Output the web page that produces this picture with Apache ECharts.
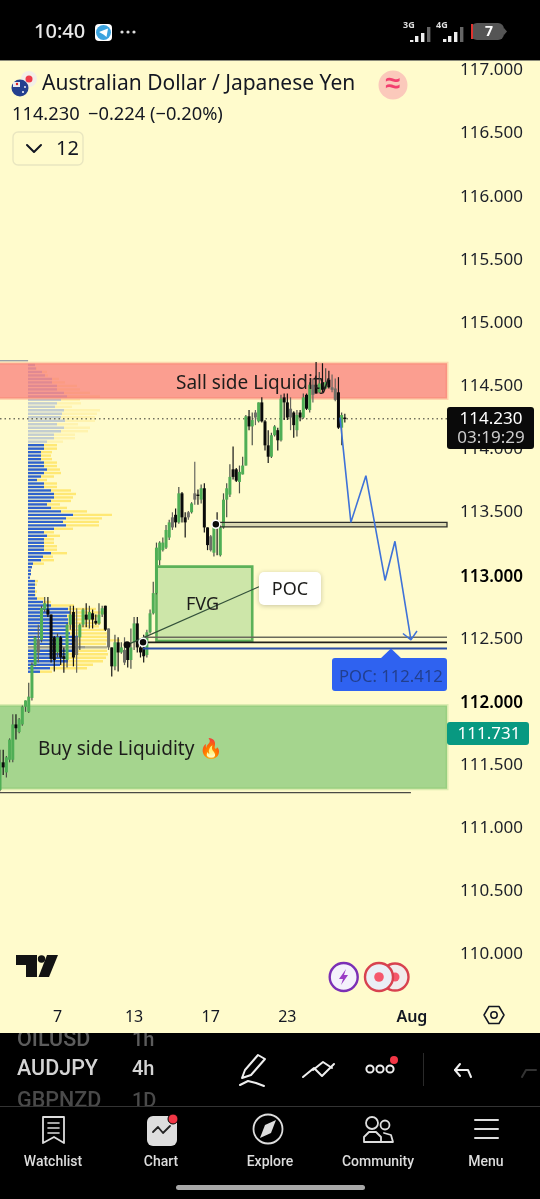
<!DOCTYPE html>
<html><head><meta charset="utf-8"><style>html,body{margin:0;padding:0;background:#fffbcc}#c{width:540px;height:1199px}</style>
<script src="https://cdn.jsdelivr.net/npm/echarts@6/dist/echarts.min.js"></script></head><body><div id="c"></div>
<script>
// ---------- values ----------
const open=[111.29,111.51,111.43,111.53,111.53,111.81,111.75,111.81,111.95,111.91,112.02,112.28,112.48,112.48,112.72,112.72,112.68,112.50,112.38,112.50,112.35,112.32,112.60,112.70,112.50,112.50,112.60,112.68,112.64,112.69,112.63,112.61,112.68,112.75,112.57,112.42,112.27,112.46,112.38,112.40,112.44,112.32,112.46,112.61,112.42,112.42,112.36,112.54,112.69,112.85,113.11,113.19,113.21,113.29,113.45,113.47,113.41,113.64,113.45,113.49,113.49,113.64,113.63,113.59,113.68,113.37,113.30,113.17,113.41,113.15,113.37,113.59,113.63,113.83,113.83,113.73,113.79,113.86,114.25,114.17,114.28,114.21,114.36,114.21,114.02,113.93,114.10,114.14,114.06,114.40,114.36,114.31,114.28,114.14,114.28,114.24,114.42,114.30,114.50,114.50,114.44,114.52,114.47,114.54,114.48,114.47,114.44,114.16,114.24];
const close=[111.51,111.47,111.55,111.69,111.81,111.78,111.85,111.95,112.00,112.03,112.28,112.50,112.38,112.73,112.77,112.68,112.33,112.32,112.50,112.34,112.33,112.60,112.68,112.34,112.36,112.60,112.72,112.64,112.70,112.64,112.61,112.68,112.73,112.56,112.42,112.27,112.46,112.38,112.42,112.30,112.32,112.42,112.61,112.42,112.38,112.35,112.54,112.69,112.85,113.21,113.25,113.25,113.35,113.41,113.37,113.41,113.64,113.45,113.41,113.45,113.56,113.59,113.62,113.68,113.37,113.23,113.19,113.41,113.37,113.37,113.59,113.68,113.77,113.77,113.74,113.81,113.86,114.25,114.17,114.22,114.24,114.36,114.21,114.02,113.93,114.10,114.17,114.06,114.39,114.36,114.24,114.24,114.18,114.26,114.24,114.40,114.31,114.50,114.42,114.43,114.51,114.46,114.52,114.48,114.46,114.38,114.16,114.26,114.23];
const low=[111.28,111.41,111.39,111.51,111.51,111.69,111.74,111.80,111.91,111.90,112.00,112.27,112.30,112.46,112.70,112.66,112.30,112.23,112.34,112.28,112.22,112.26,112.56,112.27,112.22,112.40,112.58,112.58,112.57,112.57,112.60,112.60,112.66,112.55,112.40,112.19,112.24,112.23,112.37,112.28,112.26,112.25,112.40,112.38,112.34,112.30,112.34,112.53,112.68,112.84,113.07,113.18,113.20,113.27,113.35,113.37,113.40,113.41,113.29,113.43,113.48,113.55,113.55,113.56,113.33,113.19,113.18,113.14,113.15,113.14,113.36,113.45,113.61,113.75,113.73,113.64,113.79,113.86,114.14,114.02,114.18,114.20,114.20,113.98,113.88,113.92,114.09,113.98,114.05,114.22,114.22,114.14,114.08,114.09,114.21,114.23,114.30,114.28,114.36,114.43,114.43,114.44,114.47,114.47,114.44,114.37,114.15,114.02,114.20];
const high=[111.61,111.61,111.56,111.70,111.89,111.89,111.86,111.96,112.00,112.14,112.30,112.51,112.60,112.75,112.82,112.82,112.68,112.51,112.53,112.51,112.42,112.61,112.75,112.75,112.73,112.61,112.73,112.77,112.75,112.72,112.68,112.77,112.75,112.75,112.57,112.42,112.52,112.50,112.46,112.50,112.46,112.57,112.66,112.66,112.46,112.52,112.56,112.72,112.94,113.25,113.26,113.29,113.39,113.43,113.49,113.52,113.69,113.65,113.49,113.50,113.57,113.89,113.67,113.71,113.72,113.37,113.31,113.42,113.49,113.39,113.64,113.72,113.87,114.01,113.84,113.86,113.93,114.26,114.30,114.28,114.30,114.36,114.40,114.22,114.14,114.12,114.18,114.16,114.42,114.43,114.43,114.40,114.29,114.30,114.30,114.43,114.43,114.52,114.55,114.68,114.60,114.67,114.63,114.61,114.58,114.55,114.56,114.28,114.27];
const mutedCandles=[12,24,34,39,54,59,61,66,80,91,98,104,105];
const volumeBlue=[7,8,14,17,24,24,29,29,36,39,33,29,27,36,34,33,37,29,36,33,26,26,19,16,16,13,13,13,16,16,19,16,13,9,16,16,23,26,26,23,19,23,33,45,38,35,38,26,16,19,16,16,16,16,23,15,13,5,4,3,3,2,7,7,7,7,7,9,15,23,40,42,39,40,40,39,40,42,50,50,45,57,47,40,40,40,32,22,12];
const volumeYellow=[0,1,5,3,7,13,20,23,26,33,19,24,17,36,35,34,30,21,26,27,21,21,16,13,13,11,10,11,13,13,13,17,13,10,13,13,20,22,19,20,13,16,26,39,36,36,33,19,10,13,10,10,13,13,16,10,13,11,0,0,0,0,3,2,0,2,1,7,8,23,28,37,33,28,33,32,38,37,30,42,33,22,32,40,38,35,33,37,12];
const profileTopPrice=114.657, profileBinStep=0.0276;
const sellZone=[114.39,114.67], buyZone=[111.30,111.96], fvgZone=[112.47,113.06];
const lastPrice=114.230, pocPrice=112.412, bidPrice=111.731;
const pathPrices=[114.24,113.41,113.78,112.95,113.26,112.48];
const pathSlots=[106.5,109.9,114.6,120.6,123.7,128.7];
const yTickBold=[113,112];
const xTickLabels={18:'7',42:'13',66:'17',90:'23',129:'Aug'};
const slotCount=141;
// ---------- chart ----------
const C='#fffbcc', INK='#131722', UI='"Noto Sans",sans-serif', NAV='Roboto,sans-serif';
const chart=echarts.init(document.getElementById('c'),null,{renderer:'canvas',width:540,height:1199});
const slots=Array.from({length:slotCount},(_,i)=>String(i));
const rows=volumeBlue.map((b,i)=>[i,b,volumeYellow[i],profileTopPrice-i*profileBinStep]);
function zone(name,k0,k1,prices,fill,stroke,lw,z){
  return {type:'custom',name,xAxisIndex:1,yAxisIndex:0,z,silent:true,data:[[k0,k1,prices[0],prices[1]]],clip:false,
    renderItem(p,api){const a=api.coord([api.value(0),api.value(3)]),b=api.coord([api.value(1),api.value(2)]);
      return {type:'rect',shape:{x:a[0],y:a[1],width:b[0]-a[0],height:b[1]-a[1]},style:{fill,stroke,lineWidth:lw}}}};
}
function seg(name,pts,color,width,z,type){
  return {type:'line',name,xAxisIndex:1,yAxisIndex:0,z,silent:true,symbol:'none',animation:false,data:pts,lineStyle:{color,width,type:type||'solid'}};
}
function dot(name,k,p,size,ring){
  return {type:'scatter',name,xAxisIndex:1,yAxisIndex:0,z:9,silent:true,symbolSize:size,data:[[k,p]],itemStyle:{color:'#0b0b0b',borderColor:ring,borderWidth:ring==='#fff'?1.5:0,opacity:1}};
}
const series=[
 {type:'custom',name:'Volume profile',xAxisIndex:2,yAxisIndex:0,z:1,silent:true,data:rows,
  renderItem(p,api){const i=api.value(0),b=api.value(1),y=api.value(2),pr=api.value(3);
   const a=api.coord([0,pr]),e=api.coord([b,pr]),f=api.coord([b+y,pr]);
   const faded=i<23, poc=i===81;
   return {type:'group',children:[
    {type:'rect',shape:{x:a[0],y:a[1]-1.1,width:e[0]-a[0],height:2.4},style:{fill:poc?'#9a9c8f':faded?'#c3cdd0':'#2f62cc'}},
    {type:'rect',shape:{x:e[0],y:a[1]-1.1,width:f[0]-e[0],height:2.4},style:{fill:poc?'#b9b48e':faded?'#fff3ae':'#ffe874'}}]}}},
 zone('Sell side',-2,140,sellZone,'rgba(247,82,95,.55)','rgba(247,120,95,.28)',3,2),
 zone('Buy side',-2,140,buyZone,'rgba(76,175,80,.5)','rgba(120,190,90,.25)',3,2),
 zone('FVG',49,79,fvgZone,'rgba(76,175,80,.28)','#5cb158',2.6,2),
 seg('Last price',[[0,lastPrice],[140,lastPrice]],'#30302c',1,3,[1.5,3]),
 {type:'custom',name:'AUDJPY 4h',xAxisIndex:0,yAxisIndex:0,z:5,silent:true,
  data:open.map((o,i)=>[i,o,close[i],low[i],high[i]]),encode:{x:0,y:[1,2,3,4]},
  renderItem(p,api){const k=api.value(0),o=api.value(1),c=api.value(2),l=api.value(3),h=api.value(4);
   const x=api.coord([k,o])[0],yo=api.coord([k,o])[1],yc=api.coord([k,c])[1],yl=api.coord([k,l])[1],yh=api.coord([k,h])[1];
   const up=c>=o, muted=mutedCandles.includes(k);
   const fill=up?'#4fae55':muted?'#6f6f68':'#0a0a0a', wick=up?'#4c5046':muted?'#66665f':'#141414';
   const t=Math.min(yo,yc),bt=Math.max(yo,yc);
   return {type:'group',children:[
    {type:'line',shape:{x1:x,y1:yh,x2:x,y2:yl},style:{stroke:wick,lineWidth:1.2}},
    {type:'rect',shape:{x:x-1.5,y:t,width:3,height:Math.max(1.4,bt-t)},style:{fill}}]}}},
 zone('Level band',67.6,140,[113.375,113.41],'rgba(150,150,125,.35)','#2e2e2a',1.3,6),
 seg('Range bottom',[[0,111.27],[128.7,111.27]],'#4a4a44',1.4,6),
 seg('Top range',[[0,114.69],[8.8,114.69]],'#76859a',1.2,6),
 seg('Level a',[[44.8,112.50],[140,112.50]],'#6a6a5c',1.6,6),
 seg('Level b',[[44.8,112.46],[140,112.46]],'#20201c',1.8,6),
 seg('POC',[[44.8,pocPrice],[140,pocPrice]],'#2a4fa8',2,6),
 seg('Trend',[[39.8,112.44],[81.1,112.90]],'#33513a',1.1,7),
 seg('Projection',pathSlots.map((k,i)=>[k,pathPrices[i]]),'#3f72d8',1.6,8),
 seg('Arrow head',[[126.2,112.53],[128.7,112.48],[130.6,112.55]],'#3f72d8',1.5,8),
 dot('Anchor a',39.8,112.44,7,'#000'),
 dot('Anchor b',44.8,112.46,8,'#fff'),
 dot('Anchor c',67.6,113.395,8,'#fff')
];
// ---------- UI chrome ----------
const g=[];
const Z=100;
const R=(x,y,w,h,fill,r,stroke,lw,z)=>g.push({type:'rect',z:z||Z,silent:true,shape:{x,y,width:w,height:h,r:r||0},style:{fill,stroke,lineWidth:lw||0}});
const Ci=(x,y,r,fill,stroke,lw,z)=>g.push({type:'circle',z:z||Z,silent:true,shape:{cx:x,cy:y,r},style:{fill:fill||'none',stroke,lineWidth:lw||0}});
const L=(pts,stroke,lw,z)=>g.push({type:'polyline',z:z||Z,silent:true,shape:{points:pts},style:{stroke,lineWidth:lw||1.5,fill:'none',lineCap:'round',lineJoin:'round'}});
const P=(pts,fill,z)=>g.push({type:'polygon',z:z||Z,silent:true,shape:{points:pts},style:{fill}});
const T=(text,x,y,size,fill,o)=>{o=o||{};g.push({type:'text',z:o.z||Z+1,silent:true,x,y:y+1.5,style:{text,fill,font:(o.w||400)+' '+size+'px '+(o.f||UI),textAlign:o.a||'left',textVerticalAlign:'middle'}})};
// status bar
R(0,0,540,60,'#000');
R(0,60,540,1,'#8b8b7a');
T('10:40',34,31,20,'#e9e9e9',{w:500});
R(95,24,17,17,'#fff',4);Ci(103.5,32.5,7.5,'#3aa3df');P([[99,32],[108,28.5],[106.5,37],[103.5,34.5]],'#fff');
[122,128,134].forEach(x=>Ci(x,32,1.6,'#ddd'));
T('3G',403,24,9,'#ddd',{w:700});
[[411,37,3],[416,33,7],[422,30,10],[428,24,16]].forEach((b,i)=>R(b[0]-1,b[1]+3,3.4,b[2]-1,i<3?'#eee':'#666'));
T('4G',436,24,9,'#ddd',{w:700});
[[444,36,4],[449,33,7],[455,29,11],[461,24,16]].forEach((b,i)=>R(b[0]-1,b[1]+3,3.4,b[2]-1,i<3?'#eee':'#666'));
R(471,23,33,17,'#555',6);R(471,24,2,15,'#e0332f');P([[504,28],[507,31.5],[504,35]],'#555');
T('7',485,31,14,'#fff',{w:700});
// header
Ci(29,79,8,'#f3efe8');Ci(29,79,3.5,'#ef3b4a');
Ci(20,88,8.5,'#233f8f');R(13,82,7,5,'#e9eaf0');Ci(17,84,1.2,'#d22');Ci(23,92,1,'#fff');Ci(25,87,.9,'#fff');
T('Australian Dollar / Japanese Yen',42,83,21,'#131722');
Ci(393,85,14.5,'#fbc9bb');T('≈',393,83,27,'#f23f6f',{a:'center',w:700});
T('114.230',12,113,18.3,'#131722');T('−0.224 (−0.20%)',88,113,18.3,'#131722');
R(13,132,70,33,'rgba(0,0,0,0)',5,'#e9e6c0',1.4);
L([[27,145],[34,152],[41,145]],'#131722',2);T('12',56,148,20,'#131722');
// price tags
R(447,407,87,42,'#0a0a0a',3);T('114.230',491,418,17,'#fff',{a:'center'});T('03:19:29',491,437,17,'#ccc',{a:'center'});
R(447,722,82,23,'#089981',3);T('111.731',489,733,17,'#fff',{a:'center'});
// annotation text
T('Sall side Liquidity',176,382,19,'#1d1d1b',{z:Z});
T('Buy side Liquidity 🔥',38,748,19,'#1d1d1b',{z:Z,f:UI+',"Noto Color Emoji"'});
T('FVG',186,603,18,'#1d1d1b',{z:Z});
g.push({type:'rect',z:Z,silent:true,shape:{x:259,y:572,width:62,height:33,r:5},style:{fill:'#fff',shadowBlur:5,shadowColor:'rgba(0,0,0,.22)',shadowOffsetY:1}});
T('POC',290,588,18,'#1d1d1b',{a:'center'});
R(332,658,115,33,'#2f62f0',3);P([[380,659],[391,648.5],[402,659]],'#2f62f0');
T('POC: 112.412',339,676,16.6,'#223f8e');
// logo + floating icons
P([[16,955],[37,955],[37,977],[26,977],[26,965],[16,965]],'#131313');Ci(41.5,959,3.7,'#131313');P([[47,955],[58,955],[49,977],[38.5,977]],'#131313');
Ci(343.7,977,14,'#f4f1fb','#7b2fb5',2.4);P([[346,969],[339,979],[343,979],[341,985],[348,975],[344,975]],'#9a3bc5');
Ci(395,977,13.5,'#f1ecec','#d8424f',2.4);Ci(395,977,4.5,'#f5586c');
Ci(379,977,14,'#eaeff6','#d8424f',2.4);Ci(379,977,4.8,'#f5586c');
L([[484,1015],[489,1006.5],[499,1006.5],[504,1015],[499,1023.5],[489,1023.5],[484,1015]],'#131722',1.5);Ci(494,1015,3.2,'none','#131722',1.5);
// bottom panel
R(0,1033,540,166,'#000',0,null,0,Z-1);
T('OILUSD',17,1039,21.5,'#5c5c5c',{f:NAV,w:500});T('1h',132,1039,20,'#5c5c5c',{f:NAV,w:500});
R(0,1026,540,7,C,0,null,0,Z+2);
T('AUDJPY',17,1068,21.5,'#d4d4d4',{f:NAV,w:500});T('4h',132,1068,20,'#d4d4d4',{f:NAV,w:500});
T('GBPNZD',17,1100,21.5,'#4a4a4a',{f:NAV,w:500});T('1D',132,1100,20,'#4a4a4a',{f:NAV,w:500});
R(0,1106,540,93,'#000',0,null,0,Z+2);R(0,1106,540,1,'#333',0,null,0,Z+2);
L([[245,1070],[258,1055],[265,1059],[251,1075],[242,1078],[245,1070]],'#eee',2);L([[240,1085],[248,1081],[256,1083],[264,1086]],'#eee',2);
L([[313,1070],[323,1062],[332,1068]],'#eee',2);L([[303,1077],[314,1068],[322,1076],[334,1064]],'#eee',2);
[370,380,390].forEach(x=>Ci(x,1069,3.6,'none','#eee',2));
Ci(394,1060,4,'#f23645');
R(423,1053,1,33,'#2a2a2a');
L([[471,1077],[468,1070],[455,1070]],'#eee',2);L([[460,1064],[455,1070],[460,1076]],'#eee',2);
L([[522,1077],[526,1070],[536,1070]],'#333',2);
// tabs
const tabZ=Z+3;
T('Watchlist',53,1161,14,'#ddd',{a:'center',f:NAV,w:500,z:tabZ});T('Chart',161,1161,14,'#ddd',{a:'center',f:NAV,w:500,z:tabZ});T('Explore',270,1161,14,'#ddd',{a:'center',f:NAV,w:500,z:tabZ});T('Community',378,1161,14,'#ddd',{a:'center',f:NAV,w:500,z:tabZ});T('Menu',486,1161,14,'#ddd',{a:'center',f:NAV,w:500,z:tabZ});
L([[43,1117],[64,1117],[64,1143],[54,1137],[43,1143],[43,1117]],'#ddd',1.8,tabZ);[1123,1128,1133].forEach(y=>L([[48,y],[59,y]],'#ddd',1.6,tabZ));
R(147,1116,30,30,'#dedede',6,null,0,tabZ);L([[153,1132],[158,1127],[163,1133],[170,1126]],'#222',1.8,tabZ);Ci(173,1119,5,'#f23645','#000',1,tabZ);
Ci(268,1129,14.5,'none','#ddd',1.8,tabZ);P([[276,1120],[271,1133],[260,1138],[265,1125]],'#ddd',tabZ);
Ci(372,1123,6,'none','#ddd',1.8,tabZ);Ci(385,1125,4.5,'none','#ddd',1.8,tabZ);L([[364,1142],[364,1137],[369,1132],[376,1132],[381,1137],[381,1142],[364,1142]],'#ddd',1.8,tabZ);L([[384,1133],[391,1135],[393,1142],[381,1142]],'#ddd',1.8,tabZ);
[1120,1129,1138].forEach(y=>L([[475,y],[498,y]],'#ddd',2,tabZ));
R(176,1185,189,5,'#a8a8a8',2.5,null,0,tabZ);
chart.setOption({
 animation:false,backgroundColor:C,
 grid:{left:0,top:5.86,width:447,height:1010.3,containLabel:false,show:false,outerBoundsMode:'none'},
 xAxis:[
  {type:'category',data:slots,boundaryGap:false,axisLine:{show:false},axisTick:{show:false},splitLine:{show:false},
   axisLabel:{interval:0,hideOverlap:false,margin:-7,fontSize:16,fontFamily:'"Noto Sans",sans-serif',color:INK,lineHeight:16,
    formatter:(v,i)=>{const t=xTickLabels[i];return t===undefined?'':(t==='Aug'?'{b|Aug}':t)},
    rich:{b:{fontSize:16,fontWeight:600,fontFamily:'"Noto Sans",sans-serif',color:INK}}}},
  {type:'value',min:0,max:140,show:false},
  {type:'value',min:-28,max:419,show:false}
 ],
 yAxis:{type:'value',position:'right',min:109.5,max:117.5,interval:0.5,scale:true,axisLine:{show:false},axisTick:{show:false},splitLine:{show:false},
  axisLabel:{margin:13,padding:[3,0,0,0],showMinLabel:false,showMaxLabel:false,fontSize:17,fontFamily:'"Noto Sans",sans-serif',color:'#1c1f28',
   formatter:v=>yTickBold.includes(v)?'{b|'+v.toFixed(3)+'}':v.toFixed(3),
   rich:{b:{fontSize:17,fontWeight:600,fontFamily:'"Noto Sans",sans-serif',color:'#000',padding:[3,0,0,0]}}}},
 series,
 graphic:{elements:g}
});
</script></body></html>
